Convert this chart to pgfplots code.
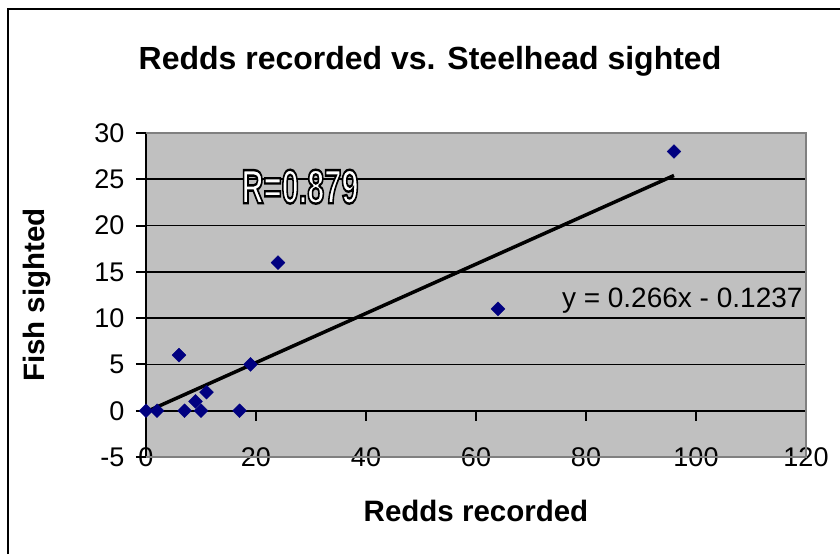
\documentclass[border=0pt]{standalone}
\usepackage{pgfplots}
\pgfplotsset{compat=1.18}
\usepackage{fontspec}
\setmainfont{Liberation Sans}
\definecolor{plotbg}{RGB}{192,192,192}
\definecolor{framegray}{RGB}{128,128,128}
\definecolor{marknavy}{RGB}{0,0,128}
\pgfplotstableread{
x y
0 0
2 0
7 0
6 6
9 1
10 0
11 2
17 0
19 5
24 16
64 11
96 28
}\datatable
\newcommand\outlined[1]{\special{pdf:literal direct 2 Tr 2.4 w 1 1 1 rg 0 0 0 RG}#1\special{pdf:literal direct 0 Tr 0 0 0 rg 0 0 0 RG}}
\begin{document}
\begin{tikzpicture}
\path[use as bounding box] (0,0) rectangle (840pt,554pt);
\draw[line width=2.5pt] (8pt,0) -- (8pt,545pt) -- (840pt,545pt);
\begin{axis}[
  at={(146pt,97pt)}, anchor=south west,
  scale only axis, width=660pt, height=324pt,
  xmin=0, xmax=120, ymin=-5, ymax=30,
  axis lines=middle,
  axis line style={-, black, line width=2pt},
  axis background/.style={fill=plotbg},
  xtick={0,20,...,120}, ytick={-5,0,...,30},
  tick align=outside, major tick length=10pt,
  every tick/.style={black, line width=2pt},
  ymajorgrids, grid style={black, line width=1.6pt},
  ticklabel style={font=\fontsize{27}{27}\selectfont},
  /pgf/number format/assume math mode=true,
  xticklabel style={anchor=center, yshift=-36pt},
  yticklabel style={xshift=-8pt},
  hide obscured x ticks=false, hide obscured y ticks=false,
  clip=false,
]
\draw[framegray, line width=2pt] (rel axis cs:0,0) -- (rel axis cs:1,0) -- (rel axis cs:1,1) -- (rel axis cs:0,1);
\addplot[black, line width=3.5pt] coordinates {(0,-0.1237) (96,25.4123)};
\addplot[only marks, mark=square*, mark size=4.9pt, mark options={rotate=45, fill=marknavy, draw=marknavy}] table[x=x, y=y] {\datatable};
\node[anchor=center, inner sep=0pt] at (axis cs:28,24.2) {\scalebox{0.64}[1]{\fontsize{48}{48}\selectfont\bfseries\outlined{R=0.879}}};
\node[anchor=base east, inner sep=0pt] at (axis cs:119.4,11.1) {\fontsize{28}{28}\selectfont y = 0.266x - 0.1237};
\end{axis}
\node[anchor=base, inner sep=0pt] at (430pt,484.5pt) {\fontsize{32}{32}\selectfont\bfseries Redds recorded vs. Steelhead sighted};
\node[anchor=base, inner sep=0pt] at (476pt,33pt) {\fontsize{29.5}{29.5}\selectfont\bfseries Redds recorded};
\node[anchor=base, inner sep=0pt, rotate=90] at (44.5pt,259pt) {\fontsize{29.5}{29.5}\selectfont\bfseries Fish sighted};
\end{tikzpicture}
\end{document}
